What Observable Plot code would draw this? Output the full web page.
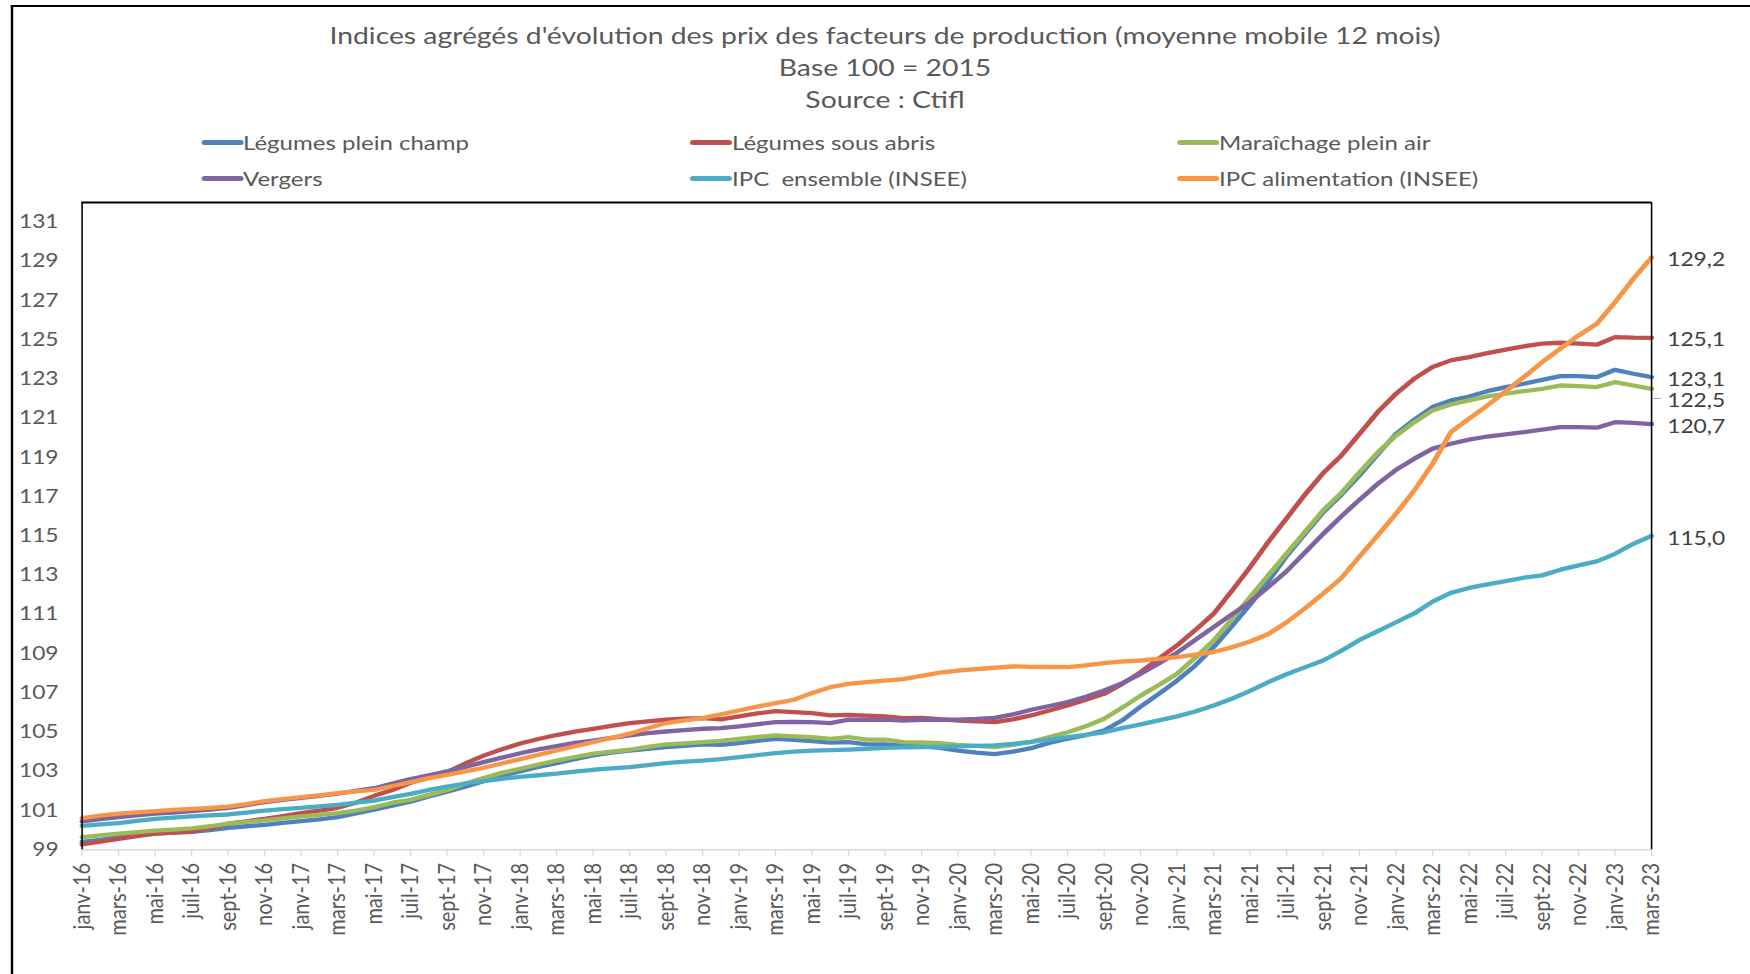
<!DOCTYPE html>
<html>
<head>
<meta charset="utf-8">
<script src="https://cdn.jsdelivr.net/npm/d3@7"></script>
<script src="https://cdn.jsdelivr.net/npm/@observablehq/plot@0.6"></script>
<style>
  html, body { margin: 0; padding: 0; background: #fff; width: 1750px; height: 974px; overflow: hidden; }
  #wrap { position: absolute; left: 0; top: 0; height: 974px; transform-origin: 0 0; font-family: Lato, sans-serif; color: #595959; }
  #border { position: absolute; left: 8.5px; top: 5px; right: -20px; bottom: -20px; border-top: 2.5px solid #000; border-left: 2.6px solid #000; }
  #title { position: absolute; left: 0; top: 19px; text-align: center; font-size: 23.6px; line-height: 32px; white-space: nowrap; }
  .leg { position: absolute; display: flex; align-items: center; font-size: 20px; white-space: pre; }
  .sw { width: 35px; height: 5px; border-radius: 2.5px; }
  #chart { position: absolute; left: 0; }
</style>
</head>
<body>
<div id="wrap">
  <div id="border"></div>
  <div id="title"></div>
  <div id="legend"></div>
  <div id="chart"></div>
</div>
<script>
// ---------- data ----------
const monthNames = ["janv", "févr", "mars", "avr", "mai", "juin", "juil", "août", "sept", "oct", "nov", "déc"];
const firstYear = 16;
const nMonths = 87; // janv-16 .. mars-23

const titleLines = [
  "Indices agrégés d'évolution des prix des facteurs de production (moyenne mobile 12 mois)",
  "Base 100 = 2015",
  "Source : Ctifl"
];

const seriesNames = [
  "Légumes plein champ", "Légumes sous abris", "Maraîchage plein air",
  "Vergers", "IPC  ensemble (INSEE)", "IPC alimentation (INSEE)"
];
const seriesColors = ["#4F81BD", "#C0504D", "#9BBB59", "#8064A2", "#4BACC6", "#F79646"];

const legumesPleinChamp = [
  99.4, 99.5, 99.64, 99.75, 99.82, 99.87, 99.92, 100.0, 100.12, 100.2,
  100.27, 100.37, 100.46, 100.55, 100.66, 100.85, 101.04, 101.25, 101.45, 101.72,
  101.96, 102.22, 102.5, 102.75, 103.0, 103.22, 103.42, 103.62, 103.81, 103.95,
  104.06, 104.15, 104.23, 104.3, 104.37, 104.35, 104.44, 104.55, 104.66, 104.6,
  104.54, 104.46, 104.49, 104.37, 104.37, 104.32, 104.28, 104.2, 104.05, 103.95,
  103.88, 104.0, 104.18, 104.45, 104.66, 104.85, 105.08, 105.6, 106.3, 106.95,
  107.63, 108.4, 109.33, 110.4, 111.5, 112.7, 113.97, 115.1, 116.2, 117.1,
  118.1, 119.16, 120.21, 120.93, 121.57, 121.91, 122.11, 122.38, 122.59, 122.76,
  122.96, 123.15, 123.15, 123.1, 123.47, 123.27, 123.1
];
const legumesSousAbris = [
  99.27, 99.42, 99.56, 99.7, 99.82, 99.88, 99.93, 100.1, 100.33, 100.45,
  100.58, 100.72, 100.87, 101.0, 101.14, 101.4, 101.75, 102.05, 102.42, 102.68,
  102.96, 103.4, 103.8, 104.12, 104.42, 104.65, 104.85, 105.02, 105.17, 105.32,
  105.46, 105.55, 105.63, 105.68, 105.71, 105.65, 105.8, 105.95, 106.07, 106.02,
  105.97, 105.85, 105.88, 105.84, 105.8, 105.71, 105.73, 105.66, 105.59, 105.55,
  105.51, 105.65, 105.85, 106.1, 106.36, 106.65, 106.95, 107.46, 108.06, 108.75,
  109.42, 110.2, 111.03, 112.2, 113.41, 114.7, 115.9, 117.1, 118.2, 119.1,
  120.21, 121.32, 122.25, 123.02, 123.61, 123.95, 124.12, 124.32, 124.5, 124.67,
  124.8, 124.85, 124.8, 124.75, 125.14, 125.11, 125.1
];
const maraichagePleinAir = [
  99.64, 99.73, 99.82, 99.9, 99.98, 100.03, 100.09, 100.2, 100.33, 100.42,
  100.5, 100.6, 100.7, 100.78, 100.87, 101.0, 101.17, 101.4, 101.55, 101.8,
  102.05, 102.38, 102.66, 102.92, 103.13, 103.35, 103.55, 103.73, 103.9, 104.0,
  104.1, 104.25, 104.37, 104.43, 104.49, 104.55, 104.66, 104.75, 104.83, 104.78,
  104.74, 104.66, 104.74, 104.62, 104.61, 104.49, 104.47, 104.44, 104.35, 104.3,
  104.23, 104.35, 104.5, 104.75, 104.99, 105.3, 105.68, 106.25, 106.86, 107.4,
  107.97, 108.8, 109.67, 110.75, 111.88, 113.0, 114.1, 115.2, 116.3, 117.2,
  118.25, 119.27, 120.12, 120.8, 121.4, 121.7, 121.91, 122.11, 122.25, 122.38,
  122.5, 122.67, 122.64, 122.59, 122.84, 122.67, 122.5
];
const vergers = [
  100.45, 100.56, 100.66, 100.75, 100.84, 100.9, 100.97, 101.05, 101.14, 101.28,
  101.43, 101.55, 101.65, 101.75, 101.86, 102.0, 102.14, 102.38, 102.6, 102.8,
  103.0, 103.23, 103.47, 103.7, 103.92, 104.12, 104.28, 104.45, 104.57, 104.7,
  104.83, 104.95, 105.03, 105.1, 105.17, 105.2, 105.29, 105.4, 105.51, 105.52,
  105.51, 105.46, 105.64, 105.63, 105.64, 105.59, 105.63, 105.63, 105.63, 105.67,
  105.73, 105.9, 106.14, 106.33, 106.53, 106.8, 107.12, 107.5, 107.97, 108.5,
  109.05, 109.7, 110.35, 111.0, 111.63, 112.4, 113.2, 114.15, 115.1, 116.0,
  116.85, 117.66, 118.37, 118.94, 119.45, 119.7, 119.91, 120.07, 120.18, 120.29,
  120.42, 120.55, 120.55, 120.52, 120.8, 120.77, 120.7
];
const ipcEnsemble = [
  100.22, 100.29, 100.36, 100.47, 100.58, 100.64, 100.7, 100.75, 100.8, 100.9,
  101.0, 101.07, 101.14, 101.21, 101.29, 101.4, 101.51, 101.68, 101.85, 102.05,
  102.22, 102.38, 102.5, 102.62, 102.72, 102.8, 102.88, 102.98, 103.08, 103.15,
  103.21, 103.32, 103.42, 103.5, 103.55, 103.62, 103.72, 103.83, 103.93, 104.0,
  104.06, 104.08, 104.11, 104.15, 104.2, 104.22, 104.23, 104.25, 104.27, 104.3,
  104.32, 104.4, 104.5, 104.62, 104.74, 104.86, 104.99, 105.2, 105.39, 105.6,
  105.8, 106.05, 106.36, 106.7, 107.1, 107.55, 107.95, 108.3, 108.65, 109.15,
  109.7, 110.15, 110.6, 111.05, 111.65, 112.1, 112.35, 112.53, 112.7, 112.87,
  112.99, 113.28, 113.5, 113.7, 114.09, 114.6, 115.0
];
const ipcAlimentation = [
  100.61, 100.74, 100.84, 100.91, 100.97, 101.03, 101.09, 101.14, 101.2, 101.33,
  101.48, 101.58, 101.68, 101.78, 101.89, 101.98, 102.05, 102.25, 102.45, 102.65,
  102.82, 103.0, 103.18, 103.4, 103.62, 103.84, 104.06, 104.28, 104.49, 104.7,
  104.92, 105.2, 105.46, 105.6, 105.71, 105.9, 106.1, 106.3, 106.48, 106.65,
  106.99, 107.29, 107.46, 107.55, 107.62, 107.7, 107.87, 108.03, 108.14, 108.21,
  108.28, 108.35, 108.33, 108.32, 108.31, 108.4, 108.52, 108.6, 108.65, 108.73,
  108.82, 108.95, 109.08, 109.32, 109.62, 110.0, 110.6, 111.3, 112.05, 112.85,
  113.95, 115.03, 116.13, 117.32, 118.68, 120.29, 120.98, 121.65, 122.37, 123.1,
  123.86, 124.55, 125.22, 125.82, 126.92, 128.11, 129.2
];
const seriesValues = [legumesPleinChamp, legumesSousAbris, maraichagePleinAir, vergers, ipcEnsemble, ipcAlimentation];

const yTicks = [99, 101, 103, 105, 107, 109, 111, 113, 115, 117, 119, 121, 123, 125, 127, 129, 131];

// ---------- derived tables ----------
const months = d3.range(nMonths).map(i => monthNames[i % 12] + "-" + (firstYear + Math.floor(i / 12)));
const xTicks = months.filter((d, i) => i % 2 === 0);
const tidy = seriesNames.flatMap((name, s) => seriesValues[s].map((v, i) => ({series: name, month: months[i], value: v})));
const lastMonth = months[nMonths - 1];
const ends = seriesNames.map((name, s) => ({series: name, month: lastMonth, value: seriesValues[s][nMonths - 1]}));
const fmt = d => d.value.toFixed(1).replace(".", ",");
const shifted = ends.filter(d => d.series === "Maraîchage plein air");
const regular = ends.filter(d => d.series !== "Maraîchage plein air");

// ---------- layout (image is horizontally stretched) ----------
const S = 1.2;
const W0 = 1750 / S;
const HEADER = 190;

const wrap = document.getElementById("wrap");
wrap.style.width = W0 + "px";
wrap.style.transform = `scaleX(${S})`;

const title = document.getElementById("title");
title.style.width = (2 * 885 / S) + "px";
title.innerHTML = titleLines.map(t => `<div>${t}</div>`).join("");

const legCols = [201, 690, 1177];
const legRows = [142, 178];
const legend = document.getElementById("legend");
seriesNames.forEach((name, i) => {
  const el = document.createElement("div");
  el.className = "leg";
  el.style.left = (legCols[i % 3] / S) + "px";
  el.style.top = (legRows[Math.floor(i / 3)] - 12) + "px";
  el.style.height = "24px";
  el.innerHTML = `<div class="sw" style="background:${seriesColors[i]}"></div><span>${name}</span>`;
  legend.appendChild(el);
});

const chart = Plot.plot({
  width: W0,
  height: 974 - HEADER,
  marginTop: 202 - HEADER,
  marginBottom: 974 - 849.3,
  marginLeft: 81.5 / S,
  marginRight: W0 - 1651 / S,
  style: {fontFamily: "Lato, sans-serif", fontSize: "19px", color: "#595959", background: "transparent", overflow: "visible"},
  x: {type: "point", domain: months, padding: 0, round: false, axis: null},
  y: {domain: [99, 132], axis: null},
  color: {domain: seriesNames, range: seriesColors},
  marks: [
    Plot.ruleY([99], {stroke: "#d9d9d9", strokeWidth: 1.6}),
    Plot.axisX(xTicks, {anchor: "bottom", tickSize: 7, tickPadding: 6, tickRotate: -90, stroke: "#d9d9d9", fill: "#595959", fontSize: 20, label: null}),
    Plot.axisY(yTicks, {anchor: "left", tickSize: 0, tickPadding: 19.6, fill: "#595959", fontSize: 19, label: null}),
    Plot.line(tidy, {x: "month", y: "value", z: "series", stroke: "series", strokeWidth: 4.3, strokeLinejoin: "round", strokeLinecap: "round"}),
    Plot.ruleX([months[0], lastMonth], {stroke: "#000", strokeWidth: 1.3}),
    Plot.ruleY([132], {stroke: "#000", strokeWidth: 2}),
    Plot.text(regular, {x: "month", y: "value", text: fmt, textAnchor: "start", dx: 13, dy: 2.5, fill: "#404040", fontSize: 19}),
    Plot.text(shifted, {x: "month", y: "value", text: fmt, textAnchor: "start", dx: 13, dy: 12, fill: "#404040", fontSize: 19}),
    Plot.ruleY(shifted, {y: "value", x1: "month", x2: "month", insetLeft: 1.5, insetRight: -8.5, dy: 9.6, stroke: "#a6a6a6", strokeWidth: 1})
  ]
});
const chartDiv = document.getElementById("chart");
chartDiv.style.top = HEADER + "px";
chartDiv.appendChild(chart);
</script>
</body>
</html>
